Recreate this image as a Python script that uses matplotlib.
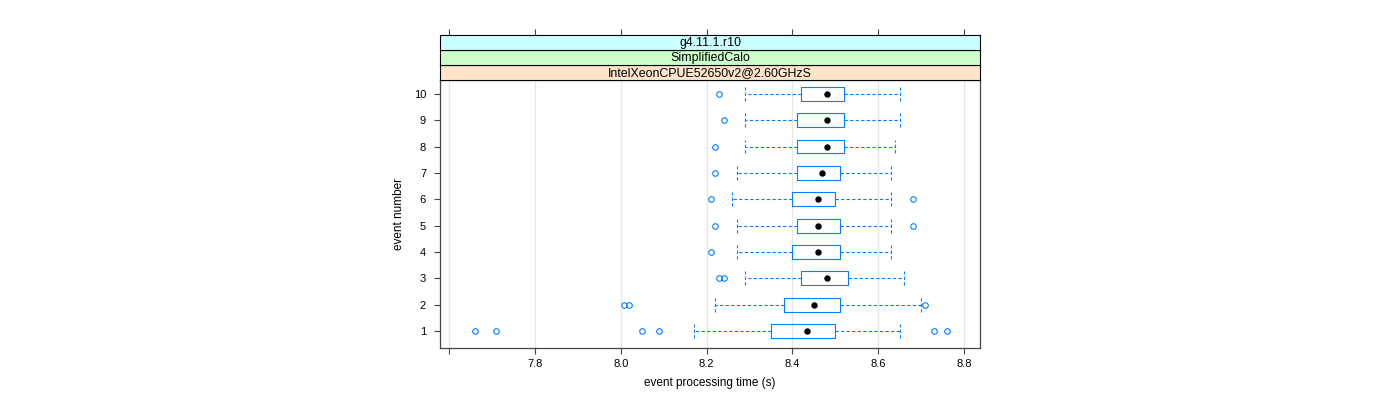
import matplotlib
matplotlib.use('Agg')
import matplotlib.pyplot as plt

plt.rcParams['font.family'] = ['Liberation Sans', 'DejaVu Sans']

# event numbers and box statistics (seconds)
events = [1, 2, 3, 4, 5, 6, 7, 8, 9, 10]
whislo = [8.17, 8.22, 8.29, 8.27, 8.27, 8.26, 8.27, 8.29, 8.29, 8.29]
q1 = [8.35, 8.38, 8.42, 8.40, 8.41, 8.40, 8.41, 8.41, 8.41, 8.42]
med = [8.435, 8.45, 8.48, 8.46, 8.46, 8.46, 8.47, 8.48, 8.48, 8.48]
q3 = [8.50, 8.51, 8.53, 8.51, 8.51, 8.50, 8.51, 8.52, 8.52, 8.52]
whishi = [8.65, 8.70, 8.66, 8.63, 8.63, 8.63, 8.63, 8.64, 8.65, 8.65]
outliers = [
    [7.66, 7.71, 8.05, 8.09, 8.73, 8.76],
    [8.007, 8.02, 8.71],
    [8.23, 8.24],
    [8.21],
    [8.22, 8.68],
    [8.21, 8.68],
    [8.22],
    [8.22],
    [8.24],
    [8.23],
]
strips = ['IntelXeonCPUE52650v2@2.60GHzS', 'SimplifiedCalo', 'g4.11.1.r10']
strip_colors = ['#ffe5cc', '#ccffcc', '#ccffff']
xticks = [7.6, 7.8, 8.0, 8.2, 8.4, 8.6, 8.8]
xlabels = ['', '7.8', '8.0', '8.2', '8.4', '8.6', '8.8']

blue = '#0080ff'
frame = '#444444'
xlim = (7.579, 8.837)

fig = plt.figure(figsize=(14, 4), dpi=100)
ax = fig.add_axes([440 / 1400, 1 - 348 / 400, 540 / 1400, 268 / 400])

stats = []
for i in range(len(events)):
    stats.append({'whislo': whislo[i], 'q1': q1[i], 'med': med[i], 'q3': q3[i],
                  'whishi': whishi[i], 'fliers': outliers[i]})

ax.bxp(stats, positions=events, orientation='horizontal', widths=0.52,
       capwidths=0.52, showfliers=True,
       boxprops=dict(color=blue, linewidth=0.8),
       whiskerprops=dict(color=blue, linewidth=0.8, linestyle=(0, (3, 2))),
       capprops=dict(color=blue, linewidth=0.8, linestyle=(0, (3, 2))),
       medianprops=dict(linestyle='none'),
       flierprops=dict(marker='o', markerfacecolor='none', markeredgecolor=blue,
                       markersize=4, markeredgewidth=0.8))
ax.plot(med, events, 'o', color='black', markersize=3.6, zorder=5)

for x in xticks:
    ax.axvline(x, color='#e6e6e6', linewidth=0.9, zorder=0)

ax.set_xlim(*xlim)
ax.set_ylim(0.355, 10.53)
ax.set_xticks(xticks)
ax.set_xticklabels(xlabels)
ax.set_yticks(events)
ax.set_yticklabels([str(e) for e in events])
ax.tick_params(axis='both', direction='out', length=4, width=0.8, color=frame,
               labelsize=8, pad=4)
ax.tick_params(axis='y', pad=6)
for s in ax.spines.values():
    s.set_color(frame)
    s.set_linewidth(0.9)
ax.set_xlabel('event processing time (s)', fontsize=8.5, labelpad=6)
ax.set_ylabel('event number', fontsize=8.5, labelpad=6)

# strips on top of the panel, with top ticks above them
sh = 14.7 / 400
base = 1 - 79.5 / 400
for j, (txt, col) in enumerate(zip(strips, strip_colors)):
    sa = fig.add_axes([440 / 1400, base + j * sh, 540 / 1400, sh])
    sa.set_facecolor(col)
    sa.set_xlim(*xlim)
    sa.text(0.5, 0.45, txt, transform=sa.transAxes, ha='center', va='center',
            fontsize=8.9)
    for s in sa.spines.values():
        s.set_color('black')
        s.set_linewidth(0.8)
    sa.set_yticks([])
    if j == len(strips) - 1:
        sa.set_xticks(xticks)
        sa.tick_params(axis='x', bottom=False, labelbottom=False, top=True,
                       labeltop=False, direction='out', length=4, width=0.8,
                       color=frame)
    else:
        sa.set_xticks([])

fig.savefig('out.png', dpi=100)
